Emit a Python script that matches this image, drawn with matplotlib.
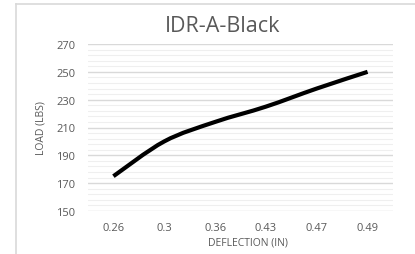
import matplotlib.pyplot as plt
from matplotlib.lines import Line2D
from matplotlib.path import Path
from matplotlib.patches import PathPatch

# 데이터
deflection = ['0.26', '0.3', '0.36', '0.43', '0.47', '0.49']
load = [175, 200, 214, 225, 238, 250]
y_ticks = [150, 170, 190, 210, 230, 250, 270]

plt.rcParams['font.family'] = ['Open Sans', 'DejaVu Sans']
txt = '#595959'

fig = plt.figure(figsize=(4.15, 2.55), dpi=100)
fig.patch.set_facecolor('white')

# 차트 테두리 (왼쪽, 위쪽만 보임)
fig.add_artist(Line2D([16/415, 16/415], [0, 1 - 5/255], color='#d9d9d9', lw=1.2, transform=fig.transFigure))
fig.add_artist(Line2D([16/415, 1], [1 - 5/255, 1 - 5/255], color='#d9d9d9', lw=1.2, transform=fig.transFigure))

ax = fig.add_axes([88/415, 1 - 212/255, (393 - 88)/415, (212 - 45)/255])
x = list(range(len(deflection)))

# 엑셀식 부드러운 선: 데이터 점을 잇는 베지어 곡선
pts = list(zip(x, load))
verts = [pts[0]]
codes = [Path.MOVETO]
for i in range(len(pts) - 1):
    p0 = pts[i - 1] if i > 0 else pts[i]
    p1 = pts[i]
    p2 = pts[i + 1]
    p3 = pts[i + 2] if i + 2 < len(pts) else pts[i + 1]
    c1 = (p1[0] + (p2[0] - p0[0]) / 6, p1[1] + (p2[1] - p0[1]) / 6)
    c2 = (p2[0] - (p3[0] - p1[0]) / 6, p2[1] - (p3[1] - p1[1]) / 6)
    verts += [c1, c2, p2]
    codes += [Path.CURVE4] * 3
ax.add_patch(PathPatch(Path(verts, codes), fill=False, edgecolor='black', lw=3,
                       capstyle='butt', joinstyle='round', zorder=3))

ax.set_xlim(-0.5, len(deflection) - 0.5)
ax.set_ylim(150, 270)
ax.set_yticks(y_ticks)
ax.set_yticks(range(150, 271, 4), minor=True)
ax.set_xticks(x)
ax.set_xticklabels(deflection)

ax.grid(axis='y', which='major', color='#d9d9d9', lw=1.0)
ax.grid(axis='y', which='minor', color='#efefef', lw=0.8)
ax.set_axisbelow(True)
for s in ax.spines.values():
    s.set_visible(False)
ax.tick_params(which='both', length=0, labelsize=8, colors=txt)
ax.tick_params(axis='y', pad=9)
ax.tick_params(axis='x', pad=8)

fig.text(223/415, 1 - 26/255, 'IDR-A-Black', ha='center', va='center', fontsize=15.5, color=txt)
fig.text(41/415, 1 - 128/255, 'LOAD (LBS)', ha='center', va='center', rotation=90, fontsize=7.5, color=txt)
fig.text(248/415, 1 - 243/255, 'DEFLECTION (IN)', ha='center', va='center', fontsize=7.5, color=txt)

fig.savefig('out.png', dpi=100)
